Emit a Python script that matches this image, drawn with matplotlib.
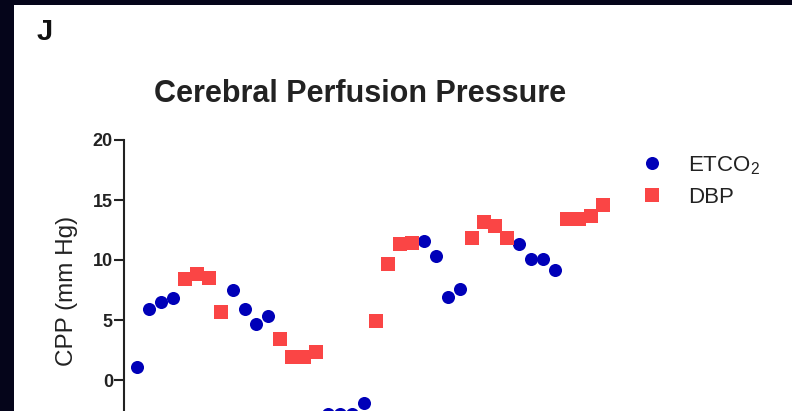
import numpy as np
import matplotlib
matplotlib.use("Agg")
from matplotlib import pyplot as plt
from matplotlib.patches import Rectangle

plt.rcParams['font.family'] = ['Liberation Sans', 'DejaVu Sans']
plt.rcParams['mathtext.fontset'] = 'custom'
plt.rcParams['mathtext.rm'] = 'Liberation Sans'

# time points (sample index) and CPP values
etco2_t = [1, 2, 3, 4, 9, 10, 11, 12, 17, 18, 19, 20, 25, 26, 27, 28, 33, 34, 35, 36]
etco2_cpp = [1.1, 5.9, 6.5, 6.8, 7.5, 5.9, 4.7, 5.3, -2.8, -2.8, -2.8, -1.9,
             11.6, 10.3, 6.9, 7.6, 11.3, 10.1, 10.1, 9.2]
dbp_t = [5, 6, 7, 8, 13, 14, 15, 16, 21, 22, 23, 24, 29, 30, 31, 32, 37, 38, 39, 40]
dbp_cpp = [8.4, 8.8, 8.5, 5.7, 3.4, 1.9, 1.9, 2.3, 4.9, 9.7, 11.3, 11.4,
           11.8, 13.2, 12.8, 11.8, 13.4, 13.4, 13.7, 14.6]
yticks = [0, 5, 10, 15, 20]

W, H = 792, 411
fig = plt.figure(figsize=(W / 100, H / 100), dpi=100)
fig.patch.set_facecolor('#05051a')
# white panel inside the dark frame
fig.patches.append(Rectangle((14 / W, 0), 1, 1 - 5 / H, transform=fig.transFigure,
                             facecolor='white', edgecolor='none', zorder=-5))

ax = fig.add_axes([124 / W, 0, (615 - 124) / W, (H - 140) / H])
ax.set_zorder(2)
ax.set_facecolor('none')
blue = '#0000b8'
red = '#fa4545'
ax.plot(etco2_t, etco2_cpp, 'o', color=blue, markersize=9.4, markeredgewidth=0,
        label='ETCO$_2$')
ax.plot(dbp_t, dbp_cpp, 's', color=red, markersize=9.4, markeredgewidth=0,
        label='DBP')

px = (603 - 137) / 39
ax.set_xlim(1 - 13 / px, 1 + (615 - 137) / px)
ax.set_ylim(-31 / 12, 20)
ax.set_yticks(yticks)
for s in ['top', 'right', 'bottom']:
    ax.spines[s].set_visible(False)
ax.spines['left'].set_linewidth(1.5)
ax.spines['left'].set_color('#222222')
ax.set_xticks([])
ax.tick_params(axis='y', length=7, width=1.5, color='#222222', pad=1,
               labelsize=13, labelcolor='#222222')
for lab in ax.get_yticklabels():
    lab.set_fontweight('bold')

fig.text(67 / W, 1 - 291 / H, 'CPP (mm Hg)', rotation=90, ha='center', va='center',
         fontsize=17.5, color='#222222')
fig.text(360 / W, 1 - 102 / H, 'Cerebral Perfusion Pressure', ha='center',
         va='baseline', fontsize=22, fontweight='bold', color='#222222')
fig.text(37 / W, 1 - 40 / H, 'J', ha='left', va='baseline', fontsize=21,
         fontweight='bold', color='#111111')

leg = fig.legend(loc='upper left', bbox_to_anchor=(641 / W, 1 - 154 / H),
                 frameon=False, fontsize=16, handlelength=1.0, handletextpad=1.1,
                 borderpad=0, borderaxespad=0, labelspacing=0.45, numpoints=1)
for t in leg.get_texts():
    t.set_color('#222222')

fig.savefig('out.png', dpi=100, facecolor=fig.get_facecolor())
